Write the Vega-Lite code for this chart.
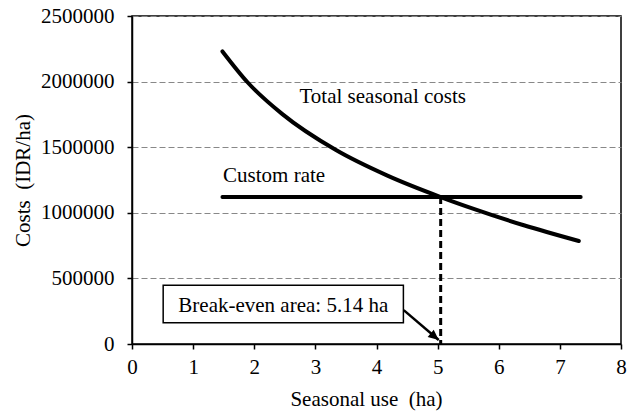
{
  "$schema": "https://vega.github.io/schema/vega-lite/v6.json",
  "autosize": {"type": "none"},
  "padding": {"left": 132, "top": 16, "right": 14, "bottom": 70},
  "width": 489,
  "height": 328,
  "background": "white",
  "config": {
    "view": {"stroke": "black", "strokeWidth": 1.5},
    "font": "Liberation Serif",
    "axis": {
      "labelFont": "Liberation Serif",
      "titleFont": "Liberation Serif",
      "labelFontSize": 21,
      "titleFontSize": 21,
      "titleFontWeight": "normal",
      "labelColor": "black",
      "titleColor": "black",
      "domainColor": "black",
      "domainWidth": 1.5,
      "tickColor": "black",
      "tickWidth": 1.5,
      "tickSize": 5,
      "labelFlush": false
    }
  },
  "datasets": {
    "curve": [
      {"use": 1.48, "cost": 2230000},
      {"use": 1.89, "cost": 1995000},
      {"use": 2.46, "cost": 1752000},
      {"use": 3.33, "cost": 1480000},
      {"use": 4.17, "cost": 1285000},
      {"use": 5.05, "cost": 1120000},
      {"use": 5.59, "cost": 1030000},
      {"use": 6.41, "cost": 905000},
      {"use": 7.31, "cost": 785000}
    ],
    "rate": [
      {"use": 1.48, "cost": 1120000},
      {"use": 7.34, "cost": 1120000}
    ],
    "breakeven": [
      {"use": 5.05, "cost": 1120000, "base": 0}
    ],
    "box": [
      {"x1": 0.51, "x2": 4.44, "y1": 162000, "y2": 448000, "xc": 2.475, "yc": 290000, "label": "Break-even area: 5.14 ha"}
    ],
    "arrow": [
      {"x1": 4.445, "y1": 258000, "x2": 5.018, "y2": 30000}
    ],
    "labels": [
      {"use": 2.74, "cost": 1834000, "label": "Total seasonal costs"},
      {"use": 1.49, "cost": 1235000, "label": "Custom rate"}
    ]
  },
  "layer": [
    {
      "data": {"name": "curve"},
      "mark": {"type": "line", "color": "black", "strokeWidth": 4, "interpolate": "monotone", "strokeCap": "round"},
      "encoding": {
        "x": {"field": "use", "type": "quantitative", "scale": {"domain": [0, 8], "nice": false},
          "axis": {"values": [0, 1, 2, 3, 4, 5, 6, 7, 8], "format": "d", "grid": false, "labelPadding": 7, "title": "Seasonal use\u00a0 (ha)", "titlePadding": 11, "titleX": 234}},
        "y": {"field": "cost", "type": "quantitative", "scale": {"domain": [0, 2500000], "nice": false},
          "axis": {"values": [0, 500000, 1000000, 1500000, 2000000, 2500000], "format": "d", "labelPadding": 13, "grid": true, "gridColor": "#888888", "gridDash": [6, 3], "gridWidth": 1, "title": "Costs\u00a0 (IDR/ha)", "titlePadding": 7}}
      }
    },
    {
      "data": {"name": "rate"},
      "mark": {"type": "line", "color": "black", "strokeWidth": 4, "strokeCap": "round"},
      "encoding": {
        "x": {"field": "use", "type": "quantitative"},
        "y": {"field": "cost", "type": "quantitative"}
      }
    },
    {
      "data": {"name": "breakeven"},
      "mark": {"type": "rule", "color": "black", "strokeWidth": 3, "strokeDash": [7, 4]},
      "encoding": {
        "x": {"field": "use", "type": "quantitative"},
        "y": {"field": "cost", "type": "quantitative"},
        "y2": {"field": "base"}
      }
    },
    {
      "data": {"name": "box"},
      "mark": {"type": "rect", "fill": "white", "stroke": "black", "strokeWidth": 1.5},
      "encoding": {
        "x": {"field": "x1", "type": "quantitative"},
        "x2": {"field": "x2"},
        "y": {"field": "y1", "type": "quantitative"},
        "y2": {"field": "y2"}
      }
    },
    {
      "data": {"name": "box"},
      "mark": {"type": "text", "font": "Liberation Serif", "fontSize": 21, "color": "black", "align": "center", "baseline": "middle"},
      "encoding": {
        "x": {"field": "xc", "type": "quantitative"},
        "y": {"field": "yc", "type": "quantitative"},
        "text": {"field": "label"}
      }
    },
    {
      "data": {"name": "arrow"},
      "mark": {"type": "rule", "color": "black", "strokeWidth": 2.5},
      "encoding": {
        "x": {"field": "x1", "type": "quantitative"},
        "y": {"field": "y1", "type": "quantitative"},
        "x2": {"field": "x2"},
        "y2": {"field": "y2"}
      }
    },
    {
      "data": {"name": "arrow"},
      "mark": {"type": "point", "shape": "M0,0L-1,-0.45L-1,0.45Z", "filled": true, "color": "black", "opacity": 1, "size": 440, "angle": 40},
      "encoding": {
        "x": {"field": "x2", "type": "quantitative"},
        "y": {"field": "y2", "type": "quantitative"}
      }
    },
    {
      "data": {"name": "labels"},
      "mark": {"type": "text", "font": "Liberation Serif", "fontSize": 21, "color": "black", "align": "left", "baseline": "alphabetic"},
      "encoding": {
        "x": {"field": "use", "type": "quantitative"},
        "y": {"field": "cost", "type": "quantitative"},
        "text": {"field": "label"}
      }
    }
  ]
}
